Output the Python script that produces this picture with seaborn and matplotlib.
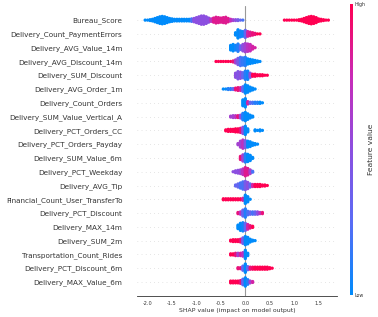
import numpy as np
import pandas as pd
import matplotlib
matplotlib.use("Agg")
import matplotlib.pyplot as plt
import seaborn as sns
from matplotlib.colors import LinearSegmentedColormap, Normalize
from matplotlib.cm import ScalarMappable

# --- DATA (top feature first) ---
FEATURES = [
    "Bureau_Score", "Delivery_Count_PaymentErrors", "Delivery_AVG_Value_14m",
    "Delivery_AVG_Discount_14m", "Delivery_SUM_Discount", "Delivery_AVG_Order_1m",
    "Delivery_Count_Orders", "Delivery_SUM_Value_Vertical_A", "Delivery_PCT_Orders_CC",
    "Delivery_PCT_Orders_Payday", "Delivery_SUM_Value_6m", "Delivery_PCT_Weekday",
    "Delivery_AVG_Tip", "Financial_Count_User_TransferTo", "Delivery_PCT_Discount",
    "Delivery_MAX_14m", "Delivery_SUM_2m", "Transportation_Count_Rides",
    "Delivery_PCT_Discount_6m", "Delivery_MAX_Value_6m",
]

# SHAP value histogram per feature: first bin, point counts per 0.05 bin, mean feature value per bin
BIN_WIDTH = 0.05
BIN_START = [-2.05, -0.20, -0.30, -0.60, -0.20, -0.45, -0.05, -0.30, -0.40, -0.15,
             -0.10, -0.25, -0.20, -0.45, -0.15, -0.15, -0.30, -0.30, -0.15, -0.30]

COUNTS = [
    [1, 1, 2, 3, 5, 7, 9, 10, 9, 7, 5, 4, 3, 3, 3, 3, 3, 3, 3, 4, 5, 7, 9, 11, 11, 9, 6, 4,
     6, 8, 7, 6, 7, 8, 5, 3, 2, 2, 2, 1, 1,
     0, 0, 0, 0, 0, 0, 0, 0, 0, 0, 0, 0, 0, 0, 0, 0,
     1, 1, 1, 1, 1, 1, 2, 3, 5, 7, 9, 10, 9, 7, 4, 3, 2, 1, 1],
    [3, 8, 6, 5, 7, 5, 4, 3, 2, 1, 1],
    [6, 8, 6, 9, 5, 8, 10, 9, 8, 4, 1],
    [1, 1, 1, 1, 1, 1, 1, 2, 4, 7, 9, 8, 9, 6, 5, 4, 3, 2, 1],
    [5, 8, 7, 6, 9, 9, 5, 3, 3, 2, 2, 2, 1, 1],
    [1, 1, 2, 2, 2, 3, 4, 4, 6, 10, 8, 5, 3, 1],
    [6, 8, 3, 2, 2, 2, 2, 2, 1],
    [2, 3, 3, 3, 4, 8, 10, 7, 4, 2],
    [2, 3, 3, 3, 4, 4, 5, 7, 9, 4, 0, 0, 2, 1, 2, 1],
    [2, 6, 8, 7, 6, 5, 3, 2, 1],
    [4, 7, 9, 8, 6, 2],
    [1, 3, 4, 5, 7, 10, 8, 5, 2],
    [2, 4, 6, 8, 9, 7, 4, 3, 3, 3, 3, 2, 2, 1],
    [2, 2, 2, 2, 2, 2, 2, 2, 3, 9, 6, 1],
    [2, 3, 6, 8, 4, 3, 3, 3, 3, 2, 2],
    [4, 7, 8, 7, 5, 3, 2],
    [2, 3, 3, 3, 4, 7, 10, 8, 4, 2, 1],
    [2, 2, 3, 3, 3, 4, 8, 3],
    [2, 2, 5, 9, 4, 3, 3, 3, 3, 3, 3, 3, 3, 2, 1],
    [3, 3, 3, 3, 4, 7, 10, 6, 3, 2],
]

COLORS = [
    [0.0, 0.0, 0.0, 0.0, 0.0, 0.0, 0.0, 0.0, 0.0, 0.0, 0.0, 0.0, 0.0, 0.0, 0.0, 0.0, 0.0, 0.0, 0.0,
     0.2, 0.5, 0.5, 0.5, 0.5, 0.5, 0.5, 0.5, 0.7, 0.85, 0.85, 0.85, 0.85, 0.85, 0.85, 0.85,
     0.75, 0.6, 0.5, 0.4, 0.3, 0.2,
     0, 0, 0, 0, 0, 0, 0, 0, 0, 0, 0, 0, 0, 0, 0, 0,
     1.0, 1.0, 1.0, 1.0, 1.0, 1.0, 1.0, 1.0, 1.0, 1.0, 1.0, 1.0, 1.0, 1.0, 1.0, 1.0, 1.0, 1.0, 1.0],
    [0.0, 0.0, 0.05, 0.05, 0.3, 0.8, 0.85, 0.9, 0.9, 1.0, 1.0],
    [0.0, 0.0, 0.05, 0.1, 0.3, 0.5, 0.6, 0.7, 0.75, 0.8, 0.8],
    [1.0, 1.0, 1.0, 1.0, 1.0, 1.0, 1.0, 0.9, 0.6, 0.4, 0.2, 0.15, 0.1, 0.0, 0.0, 0.0, 0.0, 0.0, 0.0],
    [0.5, 0.45, 0.5, 0.3, 0.1, 0.05, 0.5, 1.0, 1.0, 1.0, 1.0, 1.0, 1.0, 1.0],
    [0.0, 0.0, 0.1, 0.1, 0.3, 0.9, 0.9, 0.8, 0.3, 0.0, 0.0, 0.0, 0.0, 0.0],
    [0.0, 0.0, 0.8, 0.3, 0.2, 0.1, 0.1, 0.0, 0.0],
    [0.6, 0.6, 0.7, 0.9, 0.5, 0.1, 0.0, 0.0, 0.0, 0.0],
    [1.0, 1.0, 1.0, 1.0, 1.0, 1.0, 0.9, 0.5, 0.0, 0.0, 0.0, 0.0, 0.0, 0.0, 0.0, 0.0],
    [0.6, 0.6, 0.7, 0.4, 0.0, 0.0, 0.0, 0.0, 0.0],
    [0.9, 0.6, 0.1, 0.0, 0.0, 0.0],
    [0.5, 0.5, 0.5, 0.55, 0.7, 0.85, 0.85, 0.6, 0.2],
    [0.3, 0.3, 0.2, 0.2, 0.4, 0.5, 0.3, 0.8, 1.0, 1.0, 1.0, 1.0, 1.0, 1.0],
    [1.0, 1.0, 1.0, 1.0, 1.0, 1.0, 1.0, 1.0, 0.8, 0.0, 0.0, 0.0],
    [0.9, 0.7, 0.3, 0.1, 0.2, 0.3, 0.2, 0.3, 0.5, 0.7, 0.9],
    [0.0, 0.0, 0.05, 0.3, 0.8, 0.9, 1.0],
    [1.0, 1.0, 1.0, 1.0, 0.9, 0.4, 0.0, 0.0, 0.0, 0.0, 0.0],
    [1.0, 1.0, 0.9, 0.6, 0.8, 0.7, 0.0, 0.0],
    [0.9, 0.9, 0.3, 0.0, 0.3, 0.9, 0.95, 1.0, 1.0, 1.0, 1.0, 1.0, 1.0, 1.0, 1.0],
    [1.0, 1.0, 1.0, 1.0, 0.9, 0.3, 0.0, 0.1, 0.6, 0.8],
]

# shap-like red/blue colormap
cmap = LinearSegmentedColormap.from_list(
    "shap_red_blue", ["#008bfb", "#5a6cf5", "#8c4fe0", "#c82bb8", "#ff0052"])

# expand histograms into a beeswarm layout (stacked points per bin)
n_feat = len(FEATURES)
rows = []
for i, name in enumerate(FEATURES):
    ypos = n_feat - 1 - i
    counts = COUNTS[i]
    spacing = 0.6 / max(max(counts) - 1, 1)
    for j, (c, v) in enumerate(zip(counts, COLORS[i])):
        x = BIN_START[i] + j * BIN_WIDTH
        for k in range(c):
            rows.append((x, ypos + (k - (c - 1) / 2) * spacing, v))
df = pd.DataFrame(rows, columns=["shap", "ypos", "value"])

sns.set_style("white")
plt.rcParams["font.family"] = ["DejaVu Sans"]
axis_color = "#333333"

fig = plt.figure(figsize=(3.78, 3.17), dpi=100)
ax = fig.add_axes([0.362, 0.067, 0.530, 0.913])

for i in range(n_feat):
    ax.axhline(y=i, color="#cccccc", lw=0.5, dashes=(1, 5), zorder=-1)
ax.axvline(x=0, color="#999999", lw=0.8, zorder=-1)

sns.scatterplot(data=df, x="shap", y="ypos", hue="value", palette=cmap, hue_norm=(0, 1),
                s=5.5, linewidth=0, alpha=1, legend=False, ax=ax, rasterized=True)

ax.set_ylim(-1, n_feat)
ax.set_xlim(-2.22, 1.88)
ax.set_yticks(range(n_feat))
ax.set_yticklabels(FEATURES[::-1], fontsize=5.2, color=axis_color)
ax.set_xticks(np.arange(-2.0, 1.51, 0.5))
ax.set_xticklabels([f"{t:.1f}" for t in np.arange(-2.0, 1.51, 0.5)])
ax.tick_params("y", length=0, pad=10.5)
ax.tick_params("x", length=2, width=0.5, labelsize=3.6, colors=axis_color, pad=1.5)
ax.set_xlabel("SHAP value (impact on model output)", fontsize=4.4, color=axis_color, labelpad=1.5)
ax.set_ylabel("")
for side in ["left", "right", "top"]:
    ax.spines[side].set_visible(False)
ax.spines["bottom"].set_linewidth(0.6)
ax.spines["bottom"].set_color(axis_color)

# colorbar
cax = fig.add_axes([350 / 378, 0.069, 2.5 / 378, 0.918])
cb = fig.colorbar(ScalarMappable(norm=Normalize(0, 1), cmap=cmap), cax=cax, ticks=[0, 1])
cb.set_ticklabels(["Low", "High"])
cb.ax.tick_params(labelsize=3.4, length=0, colors=axis_color, pad=1.5)
cb.set_label("Feature value", size=5.4, labelpad=2, color=axis_color)
cb.outline.set_visible(False)

fig.savefig("out.png", dpi=100)
